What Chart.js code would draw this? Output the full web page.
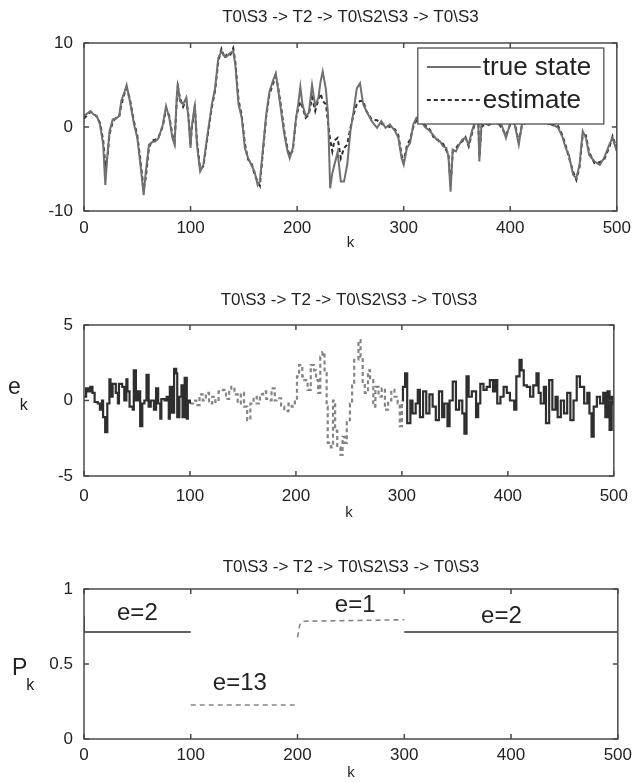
<!DOCTYPE html>
<html>
<head>
<meta charset="utf-8">
<script src="https://cdn.jsdelivr.net/npm/chart.js@4.4.0/dist/chart.umd.min.js"></script>
<style>
	body { margin: 0; background: #fff; width: 638px; height: 782px; overflow: hidden; position: relative; }
	canvas { position: absolute; left: 0; }
</style>
</head>
<body>
<canvas id="stateChart" width="638" height="255" style="top:0px"></canvas>
<canvas id="errorChart" width="638" height="275" style="top:255px"></canvas>
<canvas id="probChart" width="638" height="252" style="top:530px"></canvas>
<script>
//	Shared texts and ticks
var panelTitle = 'T0\\S3 -> T2 -> T0\\S2\\S3 -> T0\\S3';
var kTicks = [0, 100, 200, 300, 400, 500];
var stateTicks = [-10, 0, 10];
var errTicks = [-5, 0, 5];
var probTicks = [0, 0.5, 1];
var legendLabels = ['true state', 'estimate'];

//	Panel 1 - true state and its estimate
var stateK = [0,3,6,9,12,15,18,20,22,24,27,30,33,35,38,40,43,47,50,53,56,58,61,64,67,70,74,77,80,83,85,87,88,90,93,96,98,100,101,104,106,109,112,115,120,123,126,129,132,134,137,140,142,145,148,151,154,157,160,163,165,168,171,174,177,180,182,185,188,191,193,196,199,201,203,205,208,211,214,217,220,222,224,227,229,231,233,235,238,241,244,247,250,253,256,259,262,265,270,275,279,283,287,292,295,298,300,303,306,309,312,316,320,324,328,331,334,337,340,342,344,346,349,352,355,358,361,364,367,370,371,373,376,380,384,388,392,396,400,404,408,411,415,420,425,430,435,440,445,449,452,455,459,462,465,468,471,474,479,484,488,493,496,499,500];
var trueState = [1.3,1.6,1.9,1.5,1.3,0.3,-2.1,-6.9,-3.3,-0.5,0.9,1.0,1.3,3.1,4.2,5.0,3.1,0.3,-1.3,-4.5,-8.1,-5.3,-2.1,-1.8,-1.7,-1.3,0.3,2.5,1.1,-1.3,-2.1,3.5,5.2,3.1,2.7,3.5,1.1,-2.5,-0.1,2.7,-2.1,-5.3,-4.5,-1.7,2.7,4.6,8.2,9.0,8.4,8.4,8.8,9.0,7.4,2.7,1.1,-2.5,-3.7,-4.5,-5.3,-6.9,-6.5,-2.5,1.5,4.2,5.4,6.4,4.6,1.9,-0.9,-2.9,-3.7,-2.5,1.1,2.7,4.8,2.7,1.3,1.7,5.0,2.5,3.5,5.4,6.6,4.5,1.5,-7.3,-5.5,-4.5,-3.0,-6.5,-6.5,-4.5,-0.5,1.9,4.6,5.2,2.7,1.9,0.7,-0.1,0.7,-0.1,0.3,-0.5,-1.3,-3.7,-4.5,-2.5,-1.9,0.3,1.1,0.8,0.0,-0.4,-1.0,-1.5,-1.7,-2.3,-2.5,-3.5,-7.7,-2.7,-2.9,-2.1,-1.5,-1.3,-2.1,-0.5,0.7,0.5,-4.1,0.3,0.5,0.2,0.6,0.4,0.2,-1.3,0.5,0.4,-2.1,0.4,0.6,0.8,0.5,0.7,0.4,0.3,-0.1,-1.2,-2.5,-3.3,-5.7,-6.1,-4.5,-0.5,-1.3,-3.3,-4.1,-4.5,-3.7,-2.1,-1.3,-2.5,-2.0];
var estState = [1.0,1.4,1.8,1.6,1.2,0.5,-1.6,-4.5,-3.6,-0.8,0.6,1.1,1.2,2.6,4.0,4.6,3.4,0.6,-1.0,-4.0,-7.4,-6.0,-2.4,-1.6,-1.5,-1.2,0.1,2.2,1.3,-1.0,-1.8,3.0,4.8,3.5,2.4,3.2,1.4,-2.2,-0.3,2.3,-1.7,-5.0,-4.7,-2.0,2.4,4.3,7.8,9.3,8.2,8.6,8.5,9.4,7.8,3.2,1.4,-2.0,-3.9,-4.2,-5.6,-6.5,-7.0,-2.8,1.2,3.9,5.0,6.0,4.9,2.3,-0.5,-2.6,-3.4,-2.8,1.0,2.2,3.0,2.4,1.1,1.5,3.5,1.9,3.3,4.0,3.1,2.7,0.5,-1.5,-2.9,-1.6,-1.3,-3.7,-2.5,-2.1,-0.1,1.5,2.7,3.1,3.1,1.9,0.9,0.8,0.4,0.2,0.0,-0.3,-1.0,-3.3,-4.2,-2.2,-1.5,0.0,0.8,1.0,0.2,-0.2,-1.2,-1.3,-1.9,-2.0,-2.8,-3.2,-7.0,-3.0,-2.5,-2.0,-1.7,-1.2,-2.3,-0.8,0.5,0.8,-3.6,0.0,0.3,0.5,0.4,0.6,-0.1,-1.0,0.3,0.6,-1.8,0.2,0.5,0.6,0.7,0.5,0.6,0.2,0.1,-1.0,-2.2,-3.6,-5.3,-6.3,-4.8,-0.9,-1.0,-3.0,-4.3,-4.2,-3.9,-2.4,-1.1,-2.2,-2.3];

//	Panel 2 - error e_k in three stages
var errK1 = [0,2,4,6,8,10,13,15,17,18,20,22,24,25,27,30,32,33,36,38,40,41,43,46,47,49,51,53,55,57,59,61,63,66,68,70,72,73,76,78,80,81,83,85,87,88,90,92,93,95,97,98,100];
var errE1 = [0.25,0.8,0.6,0.9,0.5,-0.1,-0.2,-0.6,0,-1.1,-2.1,-0.2,1.4,0.25,1.1,0.5,-0.2,1.1,0.9,0,1.4,0.6,-0.4,-0.6,2.0,0,0.6,-1.7,-0.2,0,1.7,-0.4,0,-0.6,0.8,-0.2,-1.2,0.1,0,0.25,-1.2,0.9,-0.8,2.1,1.8,-1.1,0.25,1.0,-1.1,1.5,-1.2,0,-0.2];
var errK2 = [100,103,106,109,112,115,118,121,124,127,131,134,137,139,142,145,148,151,154,157,160,163,166,169,172,174,177,180,183,186,189,193,196,199,201,203,206,208,211,214,217,219,221,223,225,227,229,230,233,235,237,239,242,244,246,248,251,253,255,258,259,261,263,265,268,270,273,275,278,281,284,287,290,293,296,298,300];
var errE2 = [-0.2,0,-0.3,0.4,0,0.5,-0.2,0.25,-0.1,0.6,0.7,0.1,0.7,0.9,0.4,-0.2,0.5,-0.4,-1.3,-0.2,0.25,-0.2,0.4,0.6,0.1,0,0.8,0,0.15,-0.4,-0.7,-0.2,-0.4,0,1.6,2.35,1.6,1.35,0.7,2.35,2.0,1.35,0.5,2.9,3.2,2.0,-0.4,-2.8,-3.1,0,-2.0,-3.1,-3.6,-2.4,-2.8,-1.3,-0.2,1.1,2.7,2.7,4.0,2.9,1.1,0.5,2.0,1.35,-0.4,0.9,0.25,0.8,-0.6,0,0.7,0.25,-0.2,-1.7,0];
var errK3 = [300,301,303,305,308,310,313,315,317,320,323,326,329,332,335,338,340,343,345,348,351,354,357,359,361,363,366,370,372,374,377,380,383,386,388,390,393,396,399,402,406,408,411,413,415,418,421,424,427,429,431,434,436,439,442,445,447,450,453,456,459,462,465,468,470,472,475,477,479,481,484,487,490,492,494,496,498,500];
var errE3 = [0,0.9,1.8,-1.5,0,-0.85,-0.2,0.7,-1.1,0.6,-0.85,0.4,-0.4,-1.3,0.6,-1.1,-0.2,-1.7,0,1.25,-0.6,0,-0.85,-2.2,1.6,0.25,0.6,-1.1,-0.2,1.1,0.7,0.9,1.35,0.6,1.35,-0.2,0.25,0.9,0.5,0,-0.6,1.6,2.7,2.0,1.0,0.9,0.25,1.0,1.8,0.5,-0.2,0.9,-1.5,1.35,-0.6,0.25,-1.1,0,-0.85,0.5,-1.3,0,1.6,0.9,0.9,-0.2,0.5,-0.85,-2.4,-0.4,0.25,-0.2,0.5,-1.1,0.6,-1.95,0.25,-0.3];

//	Panel 3 - probabilities P_k
var probK1 = [0, 0, 100];
var probP1 = [0.82, 0.713, 0.713];
var probK2 = [100, 200];
var probP2 = [0.227, 0.227];
var probK3 = [200, 202, 205, 300];
var probP3 = [0.678, 0.76, 0.785, 0.795];
var probK4 = [300, 500];
var probP4 = [0.713, 0.713];
var noteText = ['e=2', 'e=13', 'e=1', 'e=2'];
var noteK = [50, 146, 254, 391];
var noteP = [0.84, 0.37, 0.89, 0.82];

var FONT = '"Liberation Sans", Arial, Helvetica, sans-serif';
var DARK = '#2e2e2e';
var GREY = '#858585';

function toPoints(ks, vs) {
	var pts = [];
	for (let i = 0; i < ks.length; i++) {
		pts.push({ x: ks[i], y: vs[i] });
	}
	return pts;
}

/**
 *	Draws the MATLAB style box, inward ticks, y label, notes and legend
 */
var matlabFrame = {
	id: 'matlabFrame',
	afterDatasetsDraw: function (chart, args, opts) {
		var ctx = chart.ctx;
		var a = chart.chartArea;
		var xs = chart.scales.x;
		var ys = chart.scales.y;
		ctx.save();

		//	Notes written over the plot (panel 3)
		if (opts.notes) {
			ctx.fillStyle = '#222';
			ctx.font = '24px ' + FONT;
			ctx.textAlign = 'center';
			ctx.textBaseline = 'middle';
			for (let i = 0; i < opts.notes.text.length; i++) {
				ctx.fillText(opts.notes.text[i], xs.getPixelForValue(opts.notes.k[i]), ys.getPixelForValue(opts.notes.p[i]));
			}
		}

		//	Legend box (panel 1)
		if (opts.legendBox) {
			var lx = a.right - 199, ly = a.top + 5, lw = 186, lh = 76;
			ctx.fillStyle = '#fff';
			ctx.fillRect(lx, ly, lw, lh);
			ctx.strokeStyle = '#444';
			ctx.lineWidth = 1.2;
			ctx.strokeRect(lx, ly, lw, lh);
			ctx.font = '26px ' + FONT;
			ctx.textAlign = 'left';
			ctx.textBaseline = 'middle';
			chart.data.datasets.forEach(function (ds, i) {
				var yy = ly + 19 + i * 33;
				ctx.beginPath();
				ctx.strokeStyle = ds.borderColor;
				ctx.lineWidth = ds.borderWidth;
				ctx.setLineDash(ds.borderDash || []);
				ctx.moveTo(lx + 9, yy);
				ctx.lineTo(lx + 63, yy);
				ctx.stroke();
				ctx.setLineDash([]);
				ctx.fillStyle = '#222';
				ctx.fillText(ds.label, lx + 65, yy + 1);
			});
		}

		//	Box round the plot with inward ticks
		ctx.strokeStyle = '#4a4a4a';
		ctx.lineWidth = 1.5;
		ctx.setLineDash([]);
		ctx.strokeRect(a.left, a.top, a.right - a.left, a.bottom - a.top);
		ctx.beginPath();
		xs.ticks.forEach(function (t) {
			var px = xs.getPixelForValue(t.value);
			ctx.moveTo(px, a.bottom);
			ctx.lineTo(px, a.bottom - 5);
			ctx.moveTo(px, a.top);
			ctx.lineTo(px, a.top + 5);
		});
		ys.ticks.forEach(function (t) {
			var py = ys.getPixelForValue(t.value);
			ctx.moveTo(a.left, py);
			ctx.lineTo(a.left + 5, py);
			ctx.moveTo(a.right, py);
			ctx.lineTo(a.right - 5, py);
		});
		ctx.stroke();

		//	y label with subscript
		if (opts.yLabel) {
			var mid = (a.top + a.bottom) / 2;
			ctx.fillStyle = '#222';
			ctx.textAlign = 'left';
			ctx.textBaseline = 'alphabetic';
			ctx.font = '23px ' + FONT;
			ctx.fillText(opts.yLabel.main, opts.yLabel.x, mid + opts.yLabel.dy);
			var mw = ctx.measureText(opts.yLabel.main).width;
			ctx.font = '16px ' + FONT;
			ctx.fillText(opts.yLabel.sub, opts.yLabel.x + mw - 1, mid + opts.yLabel.dy + opts.yLabel.subDy);
		}
		ctx.restore();
	}
};

/**
 *	Builds the options of one panel so that its plot area sits where the figure has it
 */
function panelOptions(cfg) {
	var tickFont = { family: FONT, size: 17 };
	return {
		responsive: false,
		animation: false,
		layout: { padding: { top: 0, left: 0, right: 15, bottom: 0 } },
		plugins: {
			legend: { display: false },
			tooltip: { enabled: false },
			title: {
				display: true,
				text: panelTitle,
				fullSize: false,
				color: '#222',
				font: { family: FONT, size: 17, weight: 'normal' },
				padding: { top: cfg.titleTop, bottom: cfg.titleBottom }
			},
			matlabFrame: cfg.frame
		},
		scales: {
			x: {
				type: 'linear',
				min: 0,
				max: 500,
				afterBuildTicks: function (s) { s.ticks = kTicks.map(function (v) { return { value: v }; }); },
				afterFit: function (s) { s.height = cfg.xHeight; },
				ticks: { padding: cfg.xPad, color: '#222', font: tickFont, maxRotation: 0 },
				grid: { display: false, drawTicks: false },
				border: { display: false },
				title: { display: true, text: 'k', color: '#222', font: { family: FONT, size: 15 }, padding: { top: 0, bottom: cfg.kPad } }
			},
			y: {
				type: 'linear',
				min: cfg.yTicks[0],
				max: cfg.yTicks[cfg.yTicks.length - 1],
				afterBuildTicks: function (s) { s.ticks = cfg.yTicks.map(function (v) { return { value: v }; }); },
				afterFit: function (s) { s.width = 84; },
				ticks: {
					padding: 11, color: '#222', font: tickFont,
					callback: function (v) { return String(v); }
				},
				grid: { display: false, drawTicks: false },
				border: { display: false }
			}
		}
	};
}

//	Panel 1
new Chart(document.getElementById('stateChart'), {
	type: 'line',
	data: {
		datasets: [{
			label: legendLabels[0],
			data: toPoints(stateK, trueState),
			borderColor: '#707070',
			borderWidth: 2,
			pointRadius: 0,
			fill: false
		}, {
			label: legendLabels[1],
			data: toPoints(stateK, estState),
			borderColor: DARK,
			borderWidth: 2,
			borderDash: [4, 3],
			pointRadius: 0,
			fill: false
		}]
	},
	options: panelOptions({ titleTop: 6.8, titleBottom: 15.8, xHeight: 44, xPad: 7, kPad: 3, yTicks: stateTicks, frame: { legendBox: true } }),
	plugins: [matlabFrame]
});

//	Panel 2
new Chart(document.getElementById('errorChart'), {
	type: 'line',
	data: {
		datasets: [{
			data: toPoints(errK1, errE1),
			borderColor: DARK, borderWidth: 2.2, stepped: true, pointRadius: 0, fill: false
		}, {
			data: toPoints(errK2, errE2),
			borderColor: GREY, borderWidth: 2.2, borderDash: [4, 3], stepped: true, pointRadius: 0, fill: false
		}, {
			data: toPoints(errK3, errE3),
			borderColor: DARK, borderWidth: 2.2, stepped: true, pointRadius: 0, fill: false
		}]
	},
	options: panelOptions({ titleTop: 34.8, titleBottom: 14.8, xHeight: 54, xPad: 10, kPad: 8, yTicks: errTicks, frame: { yLabel: { main: 'e', sub: 'k', x: 8, dy: -7, subDy: 16 } } }),
	plugins: [matlabFrame]
});

//	Panel 3
new Chart(document.getElementById('probChart'), {
	type: 'line',
	data: {
		datasets: [{
			data: toPoints(probK1, probP1), borderColor: DARK, borderWidth: 1.6, pointRadius: 0, fill: false
		}, {
			data: toPoints(probK2, probP2), borderColor: GREY, borderWidth: 1.6, borderDash: [5, 4], pointRadius: 0, fill: false
		}, {
			data: toPoints(probK3, probP3), borderColor: GREY, borderWidth: 1.6, borderDash: [5, 4], pointRadius: 0, fill: false
		}, {
			data: toPoints(probK4, probP4), borderColor: DARK, borderWidth: 1.6, pointRadius: 0, fill: false
		}]
	},
	options: panelOptions({ titleTop: 26.8, titleBottom: 11.8, xHeight: 43, xPad: 6, kPad: 0, yTicks: probTicks,
		frame: { yLabel: { main: 'P', sub: 'k', x: 12, dy: 11, subDy: 15 }, notes: { text: noteText, k: noteK, p: noteP } } }),
	plugins: [matlabFrame]
});
</script>
</body>
</html>
